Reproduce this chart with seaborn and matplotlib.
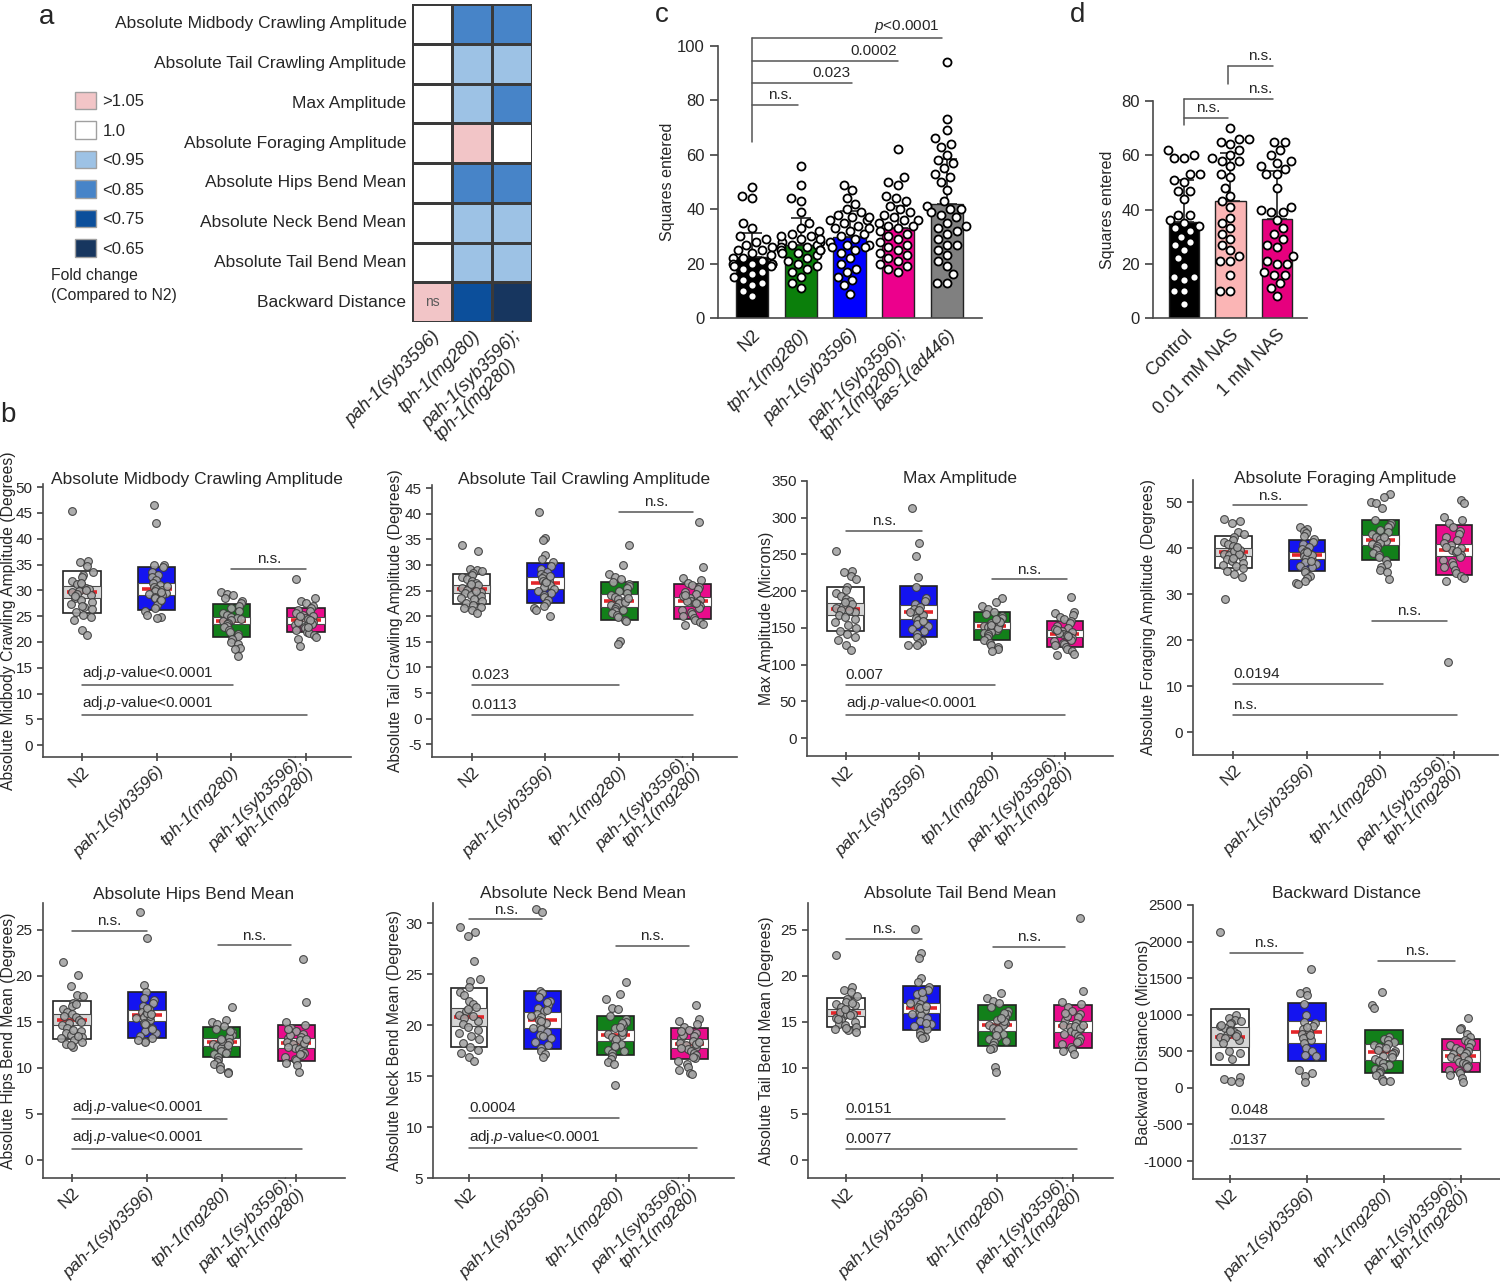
import numpy as np
import pandas as pd
import seaborn as sns
import matplotlib

matplotlib.use("Agg")
import matplotlib.pyplot as plt
from matplotlib.colors import ListedColormap
from matplotlib.patches import Patch

W, H = 1500, 1288

# ---------------- panel a: fold change heatmap ----------------
HEAT_ROWS = ["Absolute Midbody Crawling Amplitude", "Absolute Tail Crawling Amplitude",
             "Max Amplitude", "Absolute Foraging Amplitude", "Absolute Hips Bend Mean",
             "Absolute Neck Bend Mean", "Absolute Tail Bend Mean", "Backward Distance"]
HEAT_COLS = ["pah-1(syb3596)", "tph-1(mg280)", "pah-1(syb3596);\ntph-1(mg280)"]
FOLD_LEVELS = [">1.05", "1.0", "<0.95", "<0.85", "<0.75", "<0.65"]
FOLD_COLORS = ["#f2c5c7", "#ffffff", "#9dc2e5", "#4784c8", "#0c4f9b", "#17365f"]
heat_level = [[1, 3, 3], [1, 2, 2], [1, 2, 3], [1, 0, 1],
              [1, 3, 3], [1, 2, 2], [1, 2, 2], [0, 4, 5]]
heat_note = [["", "", ""]] * 7 + [["ns", "", ""]]

# ---------------- panel b: behaviour box plots ----------------
B_STRAINS = ["N2", "pah-1(syb3596)", "tph-1(mg280)", "pah-1(syb3596);\ntph-1(mg280)"]
B_COLORS = ["#ffffff", "#1414f0", "#12801a", "#ea0c8c"]

midbody_points = [
    [45.4, 35.6, 35.4, 34.8, 33.5, 33.0, 32.5, 31.8, 31.2, 30.8, 30.5, 30.2, 29.9, 29.6, 29.3, 29.0,
     28.6, 28.2, 27.8, 27.3, 26.8, 26.3, 25.8, 25.2, 24.8, 24.3, 22.4, 21.3, 30.0, 31.5, 28.9, 27.0],
    [46.6, 43.1, 35.0, 34.9, 34.5, 33.5, 33.0, 32.6, 32.0, 31.5, 31.1, 30.7, 30.3, 30.0, 29.8, 29.5,
     29.3, 29.1, 28.8, 28.5, 27.9, 27.2, 26.6, 26.0, 25.3, 24.9, 24.7, 29.6, 30.9, 28.2],
    [29.7, 29.3, 29.0, 28.5, 28.0, 27.5, 27.0, 26.5, 26.0, 25.6, 25.2, 24.9, 24.6, 24.3, 24.0, 23.7,
     23.4, 23.1, 22.8, 22.4, 22.0, 21.6, 21.1, 20.6, 20.0, 19.5, 18.9, 18.6, 17.2, 24.5],
    [32.1, 28.5, 28.0, 27.5, 27.0, 26.6, 26.2, 25.9, 25.6, 25.3, 25.0, 24.7, 24.4, 24.1, 23.8, 23.5,
     23.2, 22.9, 22.6, 22.3, 22.0, 21.7, 21.4, 21.0, 20.6, 19.2, 24.2, 23.9, 25.1, 22.8],
]
midbody_mean = [29.7, 30.3, 24.1, 24.2]
midbody_sd = [4.1, 4.15, 3.2, 2.35]
midbody_ci = [1.2, 1.15, 0.7, 0.65]

tailcrawl_points = [
    [33.9, 32.8, 29.2, 29.0, 28.8, 28.5, 28.0, 27.6, 27.2, 26.8, 26.4, 26.0, 25.7, 25.4, 25.1, 24.8,
     24.5, 24.2, 23.9, 23.6, 23.3, 23.0, 22.6, 22.2, 21.8, 21.5, 21.2, 20.7, 25.0, 26.2],
    [40.4, 35.3, 34.8, 31.9, 31.1, 30.5, 29.7, 29.2, 28.7, 28.3, 27.9, 27.5, 27.1, 26.8, 26.4, 26.0,
     25.7, 25.3, 25.0, 24.6, 24.2, 23.7, 23.2, 22.6, 22.0, 21.6, 21.2, 20.0, 26.6, 27.8],
    [33.9, 29.9, 28.2, 27.6, 27.2, 26.7, 26.2, 25.8, 25.4, 25.0, 24.6, 24.2, 23.8, 23.4, 23.0, 22.6,
     22.2, 21.8, 21.4, 21.0, 20.6, 20.2, 19.8, 19.3, 19.0, 15.2, 14.5, 22.8, 23.6, 21.2],
    [38.3, 29.5, 27.4, 27.0, 26.5, 26.0, 25.6, 25.2, 24.8, 24.4, 24.0, 23.6, 23.2, 22.9, 22.6, 22.3,
     22.0, 21.6, 21.2, 20.8, 20.4, 20.0, 19.6, 19.2, 18.8, 18.5, 18.3, 23.0, 22.5, 24.2],
]
tailcrawl_mean = [25.3, 26.5, 23.0, 22.9]
tailcrawl_sd = [2.85, 3.9, 3.75, 3.4]
tailcrawl_ci = [0.75, 1.15, 1.3, 0.9]

maxamp_points = [
    [255, 228, 226, 221, 217, 205, 201, 197, 193, 189, 186, 183, 180, 177, 174, 171, 168, 165, 162,
     158, 154, 150, 146, 142, 138, 134, 126, 120, 175, 185],
    [313, 265, 248, 219, 205, 190, 186, 182, 179, 176, 173, 170, 167, 164, 161, 158, 155, 152, 149,
     146, 142, 137, 132, 129, 127, 126, 172, 168, 175, 160],
    [190, 185, 180, 176, 172, 169, 166, 163, 160, 157, 155, 153, 151, 149, 147, 145, 143, 141, 139,
     136, 133, 130, 127, 124, 121, 118, 154, 150, 158, 162],
    [192, 172, 170, 168, 165, 162, 159, 156, 153, 150, 148, 146, 144, 142, 140, 138, 136, 134, 132,
     130, 128, 126, 124, 121, 118, 115, 113, 143, 139, 147],
]
maxamp_mean = [176, 172, 153, 142]
maxamp_sd = [30, 34.5, 19, 18]
maxamp_ci = [8.5, 9.5, 5, 4.5]

foraging_points = [
    [46.3, 45.8, 45.5, 43.5, 43.0, 42.4, 41.8, 41.3, 40.8, 40.4, 40.0, 39.6, 39.2, 38.8, 38.4, 38.0,
     37.6, 37.2, 36.8, 36.4, 36.0, 35.6, 35.0, 34.3, 33.6, 29.0, 39.4, 38.6, 40.2, 37.9],
    [44.6, 44.2, 43.8, 43.3, 42.6, 42.0, 41.4, 40.8, 40.3, 39.8, 39.4, 39.0, 38.6, 38.2, 37.8, 37.4,
     37.0, 36.6, 36.2, 35.8, 35.3, 34.7, 34.0, 33.4, 32.8, 32.4, 32.1, 38.5, 39.2, 37.2],
    [51.7, 51.0, 50.1, 49.8, 48.8, 46.0, 45.5, 45.0, 44.5, 44.0, 43.5, 43.0, 42.5, 42.0, 41.6, 41.2,
     40.8, 40.4, 40.0, 39.5, 39.0, 38.5, 38.0, 37.3, 36.5, 35.8, 35.3, 34.8, 33.2, 42.3],
    [50.4, 49.9, 46.8, 46.2, 45.5, 44.6, 43.8, 43.0, 42.4, 41.8, 41.2, 40.6, 40.1, 39.6, 39.2, 38.8,
     38.4, 38.0, 37.5, 37.0, 36.4, 35.8, 35.2, 34.5, 34.0, 33.4, 32.8, 15.3, 39.4, 40.3],
]
foraging_mean = [39.1, 38.4, 41.8, 39.6]
foraging_sd = [3.5, 3.3, 4.3, 5.5]
foraging_ci = [0.85, 0.8, 1.05, 1.25]

hips_points = [
    [21.5, 20.1, 18.9, 17.9, 17.8, 17.0, 16.7, 16.4, 16.1, 15.8, 15.5, 15.2, 14.9, 14.6, 14.3, 14.0,
     13.8, 13.6, 13.4, 13.2, 13.0, 12.8, 12.6, 12.3, 15.0, 15.6, 14.1, 13.5, 16.9, 12.5],
    [26.9, 24.1, 19.0, 18.2, 17.6, 17.4, 17.0, 16.7, 16.4, 16.1, 15.8, 15.5, 15.2, 14.9, 14.6, 14.3,
     14.0, 13.8, 13.5, 13.2, 12.9, 12.8, 15.6, 16.0, 14.8, 15.4, 13.0, 14.2, 16.5, 15.9],
    [16.6, 15.2, 15.0, 14.8, 14.5, 14.2, 13.9, 13.6, 13.3, 13.0, 12.8, 12.6, 12.4, 12.2, 12.0, 11.8,
     11.5, 11.2, 10.9, 10.6, 10.4, 10.2, 9.9, 9.6, 9.4, 12.9, 13.1, 12.5, 14.0, 11.6],
    [21.8, 17.2, 15.0, 14.6, 14.3, 14.0, 13.7, 13.4, 13.2, 13.0, 12.8, 12.6, 12.4, 12.2, 12.0, 11.8,
     11.6, 11.4, 11.2, 11.0, 10.8, 10.5, 10.3, 9.6, 12.7, 13.1, 12.3, 13.6, 11.5, 14.2],
]
hips_mean = [15.2, 15.7, 12.8, 12.7]
hips_sd = [2.1, 2.5, 1.6, 1.95]
hips_ci = [0.6, 0.6, 0.45, 0.55]

neck_points = [
    [29.6, 29.2, 28.8, 26.3, 24.5, 24.3, 23.8, 23.3, 23.0, 22.4, 22.1, 21.8, 21.4, 21.0, 20.7, 20.4,
     20.1, 19.8, 19.5, 19.2, 18.9, 18.6, 18.3, 17.9, 17.6, 17.3, 16.9, 16.5, 20.9, 21.6],
    [31.4, 31.1, 23.4, 23.2, 22.8, 22.4, 22.0, 21.7, 21.4, 21.1, 20.8, 20.5, 20.2, 19.9, 19.6, 19.3,
     19.0, 18.7, 18.4, 18.1, 17.8, 17.5, 17.2, 16.9, 20.4, 20.9, 19.7, 21.5, 18.9, 22.3],
    [24.2, 23.1, 22.6, 21.7, 21.6, 20.9, 20.6, 20.3, 20.0, 19.7, 19.4, 19.1, 18.8, 18.5, 18.2, 17.9,
     17.6, 17.3, 17.0, 16.7, 16.4, 16.2, 14.1, 19.0, 19.3, 18.6, 18.0, 20.2, 17.5, 19.8],
    [22.0, 20.6, 20.4, 20.1, 19.8, 19.5, 19.2, 18.9, 18.7, 18.5, 18.3, 18.1, 17.9, 17.7, 17.5, 17.3,
     17.1, 16.8, 16.5, 16.2, 15.9, 15.6, 15.3, 15.2, 18.2, 18.4, 17.8, 19.0, 16.9, 19.4],
]
neck_mean = [20.8, 20.5, 19.0, 18.2]
neck_sd = [2.9, 2.85, 1.95, 1.55]
neck_ci = [0.85, 0.8, 0.5, 0.4]

tailbend_points = [
    [22.2, 18.8, 18.5, 18.2, 17.8, 17.5, 17.2, 16.9, 16.6, 16.3, 16.0, 15.8, 15.6, 15.4, 15.2, 15.0,
     14.8, 14.6, 14.4, 14.2, 14.1, 13.9, 16.1, 15.9, 16.8, 15.3, 14.3, 17.0, 15.7, 16.4],
    [25.1, 22.5, 21.9, 19.8, 19.3, 18.8, 18.4, 18.0, 17.6, 17.2, 16.9, 16.6, 16.3, 16.0, 15.7, 15.4,
     15.1, 14.8, 14.5, 14.2, 13.9, 13.6, 13.3, 13.2, 16.5, 17.0, 15.9, 16.7, 18.2, 14.9],
    [21.3, 18.1, 17.6, 17.3, 17.0, 16.6, 16.2, 15.8, 15.5, 15.2, 14.9, 14.6, 14.3, 14.0, 13.7, 13.4,
     13.1, 12.8, 12.5, 12.2, 12.0, 10.1, 9.6, 14.7, 15.1, 14.2, 13.6, 16.0, 12.9, 15.4],
    [26.3, 18.3, 17.1, 16.9, 16.6, 16.2, 15.8, 15.5, 15.2, 14.9, 14.6, 14.4, 14.2, 14.0, 13.8, 13.5,
     13.2, 12.9, 12.6, 12.3, 12.0, 11.8, 11.5, 14.5, 14.3, 14.7, 13.7, 15.6, 12.8, 16.0],
]
tailbend_mean = [16.0, 16.5, 14.6, 14.5]
tailbend_sd = [1.6, 2.4, 2.2, 2.3]
tailbend_ci = [0.4, 0.55, 0.6, 0.6]

backward_points = [
    [2130, 1000, 950, 930, 910, 890, 870, 850, 820, 790, 760, 740, 720, 700, 680, 650, 620, 500, 470,
     440, 400, 150, 120, 90, 80, 860, 780, 710],
    [1630, 1320, 1300, 1270, 1140, 1000, 900, 880, 850, 800, 760, 740, 700, 680, 650, 620, 540, 500,
     450, 430, 240, 200, 160, 80, 720, 830],
    [1310, 1130, 1090, 690, 670, 650, 630, 600, 580, 560, 540, 520, 500, 480, 460, 440, 420, 400,
     370, 340, 310, 280, 260, 240, 220, 200, 170, 120, 100, 90],
    [950, 820, 800, 740, 700, 660, 630, 610, 590, 560, 540, 520, 500, 480, 460, 440, 420, 400, 380,
     360, 340, 320, 300, 280, 250, 230, 200, 170, 140, 80],
]
backward_mean = [700, 760, 495, 440]
backward_sd = [383, 395, 298, 228]
backward_ci = [135, 150, 110, 80]

# ---------------- panel c: squares entered, mutants ----------------
C_STRAINS = ["N2", "tph-1(mg280)", "pah-1(syb3596)", "pah-1(syb3596);\ntph-1(mg280)", "bas-1(ad446)"]
C_COLORS = ["#000000", "#0b7f0b", "#0000ff", "#ec008c", "#808080"]
c_mean = [22.3, 27.0, 29.9, 33.2, 41.9]
c_sd = [9.1, 9.7, 9.6, 7.8, 16.4]
c_points = [
    [48, 45, 44, 35, 33, 30, 29, 28, 27, 26, 25, 25, 24, 23, 22, 22, 21, 20, 20, 20, 20, 19, 19, 18,
     17, 16, 15, 14, 13, 12, 10, 8],
    [56, 49, 44, 43, 39, 35, 33, 32, 31, 30, 29, 28, 28, 27, 26, 26, 25, 25, 24, 24, 23, 22, 21, 20,
     19, 18, 17, 15, 13, 11, 27, 29, 30, 25],
    [49, 47, 44, 42, 40, 39, 38, 37, 36, 36, 35, 34, 33, 32, 31, 30, 29, 28, 27, 26, 25, 24, 22, 20,
     18, 17, 15, 14, 12, 9, 37, 33, 27, 26],
    [62, 52, 50, 49, 45, 44, 43, 41, 40, 39, 38, 37, 36, 35, 34, 33, 32, 31, 30, 29, 28, 27, 26, 25,
     24, 23, 22, 21, 20, 19, 18, 17, 36, 34],
    [94, 73, 69, 66, 64, 63, 60, 58, 57, 55, 53, 52, 50, 47, 43, 41, 40, 39, 38, 37, 34, 33, 32, 31,
     29, 27, 27, 25, 23, 21, 19, 16, 13, 13, 40, 35],
]

# ---------------- panel d: squares entered, NAS ----------------
D_GROUPS = ["Control", "0.01 mM NAS", "1 mM NAS"]
D_COLORS = ["#000000", "#fbb5b5", "#e6007e"]
d_mean = [35.5, 43.3, 36.6]
d_sd = [15.5, 17.7, 17.6]
d_points = [
    [62, 60, 59, 59, 53, 53, 51, 50, 47, 47, 44, 38, 38, 36, 35, 34, 33, 32, 30, 28, 27, 25, 22, 19,
     15, 15, 14, 10, 10, 5],
    [70, 66, 66, 65, 64, 62, 60, 59, 58, 58, 56, 53, 52, 48, 45, 43, 41, 37, 35, 33, 31, 29, 27, 25,
     23, 21, 21, 16, 10, 10],
    [65, 65, 62, 60, 58, 57, 56, 55, 53, 53, 48, 41, 40, 39, 39, 36, 33, 31, 29, 27, 26, 23, 21, 20,
     20, 17, 16, 16, 13, 11, 8],
]

ADJ = r"adj.$\it{p}$-value<0.0001"
SPINE = "#4a4a4a"


def add_ax(fig, x0, y0, x1, y1):
    return fig.add_axes([x0 / W, 1 - y1 / H, (x1 - x0) / W, (y1 - y0) / H])


def style_xlabels(ax, size, italic=True, align="left", spacing=0.95, center_multi=False):
    for lbl in ax.get_xticklabels():
        lbl.set_fontsize(size)
        lbl.set_multialignment(align)
        lbl.set_linespacing(spacing)
        if italic and lbl.get_text() != "N2":
            lbl.set_style("italic")
        if center_multi and "\n" in lbl.get_text():
            lbl.set_verticalalignment("center")


def place_ylabel(ax, rect, xc):
    # label center at pixel xc; anchor is the label's right edge
    ax.yaxis.set_label_coords((xc + 8 - rect[0]) / (rect[2] - rect[0]), 0.5)


def long_form(points, groups):
    return pd.DataFrame({
        "grp": np.repeat(groups, [len(p) for p in points]),
        "val": np.concatenate([np.asarray(p, float) for p in points]),
    })


def draw_heatmap(fig):
    ax = add_ax(fig, 412, 4, 532, 322)
    heat = pd.DataFrame(heat_level, index=HEAT_ROWS, columns=HEAT_COLS)
    sns.heatmap(heat, cmap=ListedColormap(FOLD_COLORS), vmin=-0.5, vmax=len(FOLD_COLORS) - 0.5,
                cbar=False, linewidths=1, linecolor="#3a3a3a", annot=np.array(heat_note), fmt="",
                annot_kws={"color": "#5a5a5a", "fontsize": 10}, ax=ax)
    ax.set_xlabel("")
    ax.set_ylabel("")
    ax.set_yticklabels(HEAT_ROWS, rotation=0, fontsize=12.5)
    ax.set_xticklabels(HEAT_COLS, rotation=45, ha="right", rotation_mode="anchor")
    style_xlabels(ax, 13)
    ax.tick_params(length=0, pad=4)

    handles = [Patch(facecolor=c, edgecolor="#a0a0a0", linewidth=1) for c in FOLD_COLORS]
    fig.legend(handles, FOLD_LEVELS, loc="upper left", bbox_to_anchor=(75 / W, 1 - 92 / H),
               frameon=False, fontsize=12, handlelength=1.25, handleheight=1.2,
               labelspacing=0.74, handletextpad=0.4, borderpad=0, borderaxespad=0)
    fig.text(51 / W, 1 - 268 / H, "Fold change\n(Compared to N2)", ha="left", va="top",
             fontsize=11.3, linespacing=1.4)


def draw_box_panel(fig, rect, title, ylabel, points, mean, sd, ci, ylim, yticks, xlim, marks,
                   title_y, label_x):
    ax = add_ax(fig, *rect)
    x = np.arange(len(B_STRAINS))
    mean, sd, ci = np.array(mean), np.array(sd), np.array(ci)
    ax.bar(x, 2 * sd, bottom=mean - sd, width=0.5, color=B_COLORS, edgecolor="#222222",
           linewidth=1.2, zorder=1)
    band = ["#d6d6d6"] + ["#ffffff"] * 3
    ax.bar(x, 2 * ci, bottom=mean - ci, width=0.5, color=band, edgecolor="#4a4a4a",
           linewidth=0.8, zorder=1.5)
    ax.hlines(mean, x - 0.2, x + 0.2, color="#e3262a", lw=2.6, zorder=2)
    np.random.seed(7)
    sns.stripplot(data=long_form(points, x), x="grp", y="val", native_scale=True, jitter=0.15,
                  color="#a4a4a4", edgecolor="#3a3a3a", linewidth=0.8, size=5.6, alpha=0.9,
                  zorder=3, ax=ax)

    for x0, x1, y, txt, align in marks:
        ax.plot([x0, x1], [y, y], color="#555555", lw=1.1, clip_on=False)
        if align == "c":
            ax.annotate(txt, ((x0 + x1) / 2, y), xytext=(0, 2), textcoords="offset points",
                        ha="center", va="bottom", fontsize=11)
        else:
            ax.annotate(txt, (x0, y), xytext=(0, 2), textcoords="offset points",
                        ha="left", va="bottom", fontsize=11)

    ax.set_xlim(*xlim)
    ax.set_ylim(*ylim)
    ax.set_yticks(yticks)
    ax.set_xticks(x)
    ax.set_xticklabels(B_STRAINS, rotation=45, ha="right", rotation_mode="anchor")
    style_xlabels(ax, 12.5, align="right", spacing=1.1, center_multi=True)
    ax.set_xlabel("")
    ax.set_ylabel(ylabel, fontsize=11.3)
    place_ylabel(ax, rect, label_x)
    ax.tick_params(axis="y", length=4, direction="out", labelsize=11, color=SPINE)
    ax.tick_params(axis="x", length=6, direction="inout", color=SPINE, pad=2)
    sns.despine(ax=ax)
    for s in ("left", "bottom"):
        ax.spines[s].set_color(SPINE)
        ax.spines[s].set_linewidth(1.2)
    xc = (rect[0] + rect[2]) / 2
    fig.text(xc / W, 1 - title_y / H, title, ha="center", va="center", fontsize=12.5)
    return ax


def draw_bar_panel(fig, rect, groups, colors, mean, sd, points, xlim, ylim, yticks, width,
                   label_x):
    ax = add_ax(fig, *rect)
    sns.barplot(x=groups, y=mean, hue=groups, palette=colors, legend=False, width=width,
                saturation=1, edgecolor="#222222", linewidth=1, order=groups, ax=ax)
    ax.errorbar(np.arange(len(groups)), mean, yerr=[np.zeros(len(sd)), sd], fmt="none",
                ecolor="#222222", elinewidth=1.2, capsize=7, capthick=1.2, zorder=2.5)
    sns.swarmplot(data=long_form(points, groups), x="grp", y="val", order=groups, color="white",
                  edgecolor="black", linewidth=1.3, size=5.8, zorder=3, ax=ax)
    ax.set_xlim(*xlim)
    ax.set_ylim(*ylim)
    ax.set_yticks(yticks)
    ax.set_xlabel("")
    ax.set_ylabel("Squares entered", fontsize=11.5)
    place_ylabel(ax, rect, label_x)
    ax.set_xticks(range(len(groups)))
    ax.set_xticklabels(groups, rotation=45, ha="right", rotation_mode="anchor")
    ax.tick_params(axis="y", length=6, direction="out", labelsize=12, color=SPINE)
    ax.tick_params(axis="x", length=0, pad=6)
    sns.despine(ax=ax)
    for s in ("left", "bottom"):
        ax.spines[s].set_color(SPINE)
        ax.spines[s].set_linewidth(1.2)
    return ax


def bracket_text(ax, x, y, txt, ha):
    ax.annotate(txt, (x, y), xytext=(0, 2), textcoords="offset points", ha=ha, va="bottom",
                fontsize=11, annotation_clip=False)


def main():
    sns.set_theme(style="ticks")
    plt.rcParams["font.family"] = ["Liberation Sans", "DejaVu Sans"]
    plt.rcParams["mathtext.fontset"] = "custom"
    plt.rcParams["mathtext.rm"] = "Liberation Sans"
    plt.rcParams["mathtext.it"] = "Liberation Sans:italic"
    plt.rcParams["axes.unicode_minus"] = False

    fig = plt.figure(figsize=(W / 100, H / 100), dpi=100)

    draw_heatmap(fig)

    # panel c
    rect_c = (718, 46, 982, 318)
    ax_c = draw_bar_panel(fig, rect_c, C_STRAINS, C_COLORS, c_mean, c_sd, c_points,
                          (-0.7, 4.72), (0, 100), range(0, 101, 20), 0.66, 667)
    style_xlabels(ax_c, 13)
    kw = dict(color="#555555", lw=1.1, clip_on=False)
    ax_c.plot([0, 0], [64.7, 103], **kw)
    for x1, y, txt, ha, xt in [(3.9, 103, r"$\it{p}$<0.0001", "right", 3.86),
                               (3.0, 94.5, "0.0002", "right", 2.98),
                               (2.05, 86.4, "0.023", "right", 2.03),
                               (0.95, 78.3, "n.s.", "center", 0.57)]:
        ax_c.plot([0, x1], [y, y], **kw)
        bracket_text(ax_c, xt, y, txt, ha)

    # panel d
    rect_d = (1153, 101, 1307, 318)
    ax_d = draw_bar_panel(fig, rect_d, D_GROUPS, D_COLORS, d_mean, d_sd, d_points,
                          (-0.67, 2.65), (0, 80), range(0, 81, 20), 0.65, 1107)
    style_xlabels(ax_d, 13, italic=False)
    ax_d.plot([0, 0], [71.2, 80.8], **kw)
    ax_d.plot([0, 1.91], [80.8, 80.8], **kw)
    ax_d.plot([0, 0.95], [73.8, 73.8], **kw)
    ax_d.plot([0.95, 0.95], [86.3, 93], **kw)
    ax_d.plot([0.95, 1.91], [93, 93], **kw)
    bracket_text(ax_d, 1.91, 80.8, "n.s.", "right")
    bracket_text(ax_d, 0.52, 73.8, "n.s.", "center")
    bracket_text(ax_d, 1.91, 93, "n.s.", "right")

    # panel b
    panels = [
        ((43, 484, 351, 757), "Absolute Midbody Crawling Amplitude",
         "Absolute Midbody Crawling Amplitude (Degrees)", midbody_points, midbody_mean,
         midbody_sd, midbody_ci, (-2.3, 50.6), range(0, 51, 5), (-0.52, 3.6),
         [(2, 3, 34.2, "n.s.", "c"), (0, 2.02, 11.7, ADJ, "l"), (0, 3.01, 5.8, ADJ, "l")], 479, 8),
        ((432, 485, 737, 757), "Absolute Tail Crawling Amplitude",
         "Absolute Tail Crawling Amplitude (Degrees)", tailcrawl_points, tailcrawl_mean,
         tailcrawl_sd, tailcrawl_ci, (-7.5, 45.6), range(-5, 46, 5), (-0.54, 3.6),
         [(2, 3, 40.3, "n.s.", "c"), (0, 2.0, 6.6, "0.023", "l"), (0, 3.0, 0.7, "0.0113", "l")],
         479, 395),
        ((807, 481, 1113, 756), "Max Amplitude", "Max Amplitude (Microns)", maxamp_points,
         maxamp_mean, maxamp_sd, maxamp_ci, (-24.5, 350), range(0, 351, 50), (-0.53, 3.66),
         [(0, 1.05, 282, "n.s.", "c"), (2, 3.03, 216, "n.s.", "c"), (0, 2.05, 72, "0.007", "l"),
          (0, 3.0, 31, ADJ, "l")], 478, 766),
        ((1193, 480, 1498, 755), "Absolute Foraging Amplitude",
         "Absolute Foraging Amplitude (Degrees)", foraging_points, foraging_mean, foraging_sd,
         foraging_ci, (-5, 54.8), range(0, 51, 10), (-0.55, 3.6),
         [(0, 1.0, 49.3, "n.s.", "c"), (1.88, 2.9, 24.2, "n.s.", "c"),
          (0, 2.03, 10.4, "0.0194", "l"), (0, 3.04, 3.8, "n.s.", "l")], 478, 1148),
        ((43, 903, 345, 1178), "Absolute Hips Bend Mean", "Absolute Hips Bend Mean (Degrees)",
         hips_points, hips_mean, hips_sd, hips_ci, (-1.96, 27.9), range(0, 26, 5), (-0.39, 3.65),
         [(0, 1.0, 24.9, "n.s.", "c"), (1.95, 2.93, 23.3, "n.s.", "c"), (0, 2.07, 4.5, ADJ, "l"),
          (0, 3.07, 1.2, ADJ, "l")], 894, 8),
        ((433, 903, 734, 1178), "Absolute Neck Bend Mean", "Absolute Neck Bend Mean (Degrees)",
         neck_points, neck_mean, neck_sd, neck_ci, (5, 32), range(5, 31, 5), (-0.49, 3.61),
         [(0, 1.0, 30.4, "n.s.", "c"), (2, 3, 27.8, "n.s.", "c"), (0, 2.05, 10.9, "0.0004", "l"),
          (0, 3.1, 7.9, ADJ, "l")], 894, 394),
        ((808, 903, 1113, 1178), "Absolute Tail Bend Mean", "Absolute Tail Bend Mean (Degrees)",
         tailbend_points, tailbend_mean, tailbend_sd, tailbend_ci, (-1.96, 27.9), range(0, 26, 5),
         (-0.5, 3.53),
         [(0, 1.0, 24.0, "n.s.", "c"), (1.95, 2.9, 23.1, "n.s.", "c"),
          (0, 2.1, 4.5, "0.0151", "l"), (0, 3.05, 1.2, "0.0077", "l")], 894, 766),
        ((1193, 905, 1500, 1179), "Backward Distance", "Backward Distance (Microns)",
         backward_points, backward_mean, backward_sd, backward_ci, (-1246, 2500),
         range(-1000, 2501, 500), (-0.48, 3.51),
         [(0, 0.95, 1850, "n.s.", "c"), (1.93, 2.93, 1740, "n.s.", "c"),
          (0, 2.0, -430, "0.048", "l"), (0, 3.0, -840, ".0137", "l")], 894, 1143),
    ]
    for (rect, title, ylabel, pts, mean, sd, ci, ylim, yticks, xlim, marks, ty, lx) in panels:
        draw_box_panel(fig, rect, title, ylabel, pts, mean, sd, ci, ylim, yticks, xlim, marks,
                       ty, lx)

    for letter, (x, y) in {"a": (47, 17), "b": (8, 415), "c": (662, 15), "d": (1078, 15)}.items():
        fig.text(x / W, 1 - y / H, letter, ha="center", va="center", fontsize=20)

    fig.savefig("out.png", dpi=100)
    plt.close(fig)


if __name__ == "__main__":
    main()
